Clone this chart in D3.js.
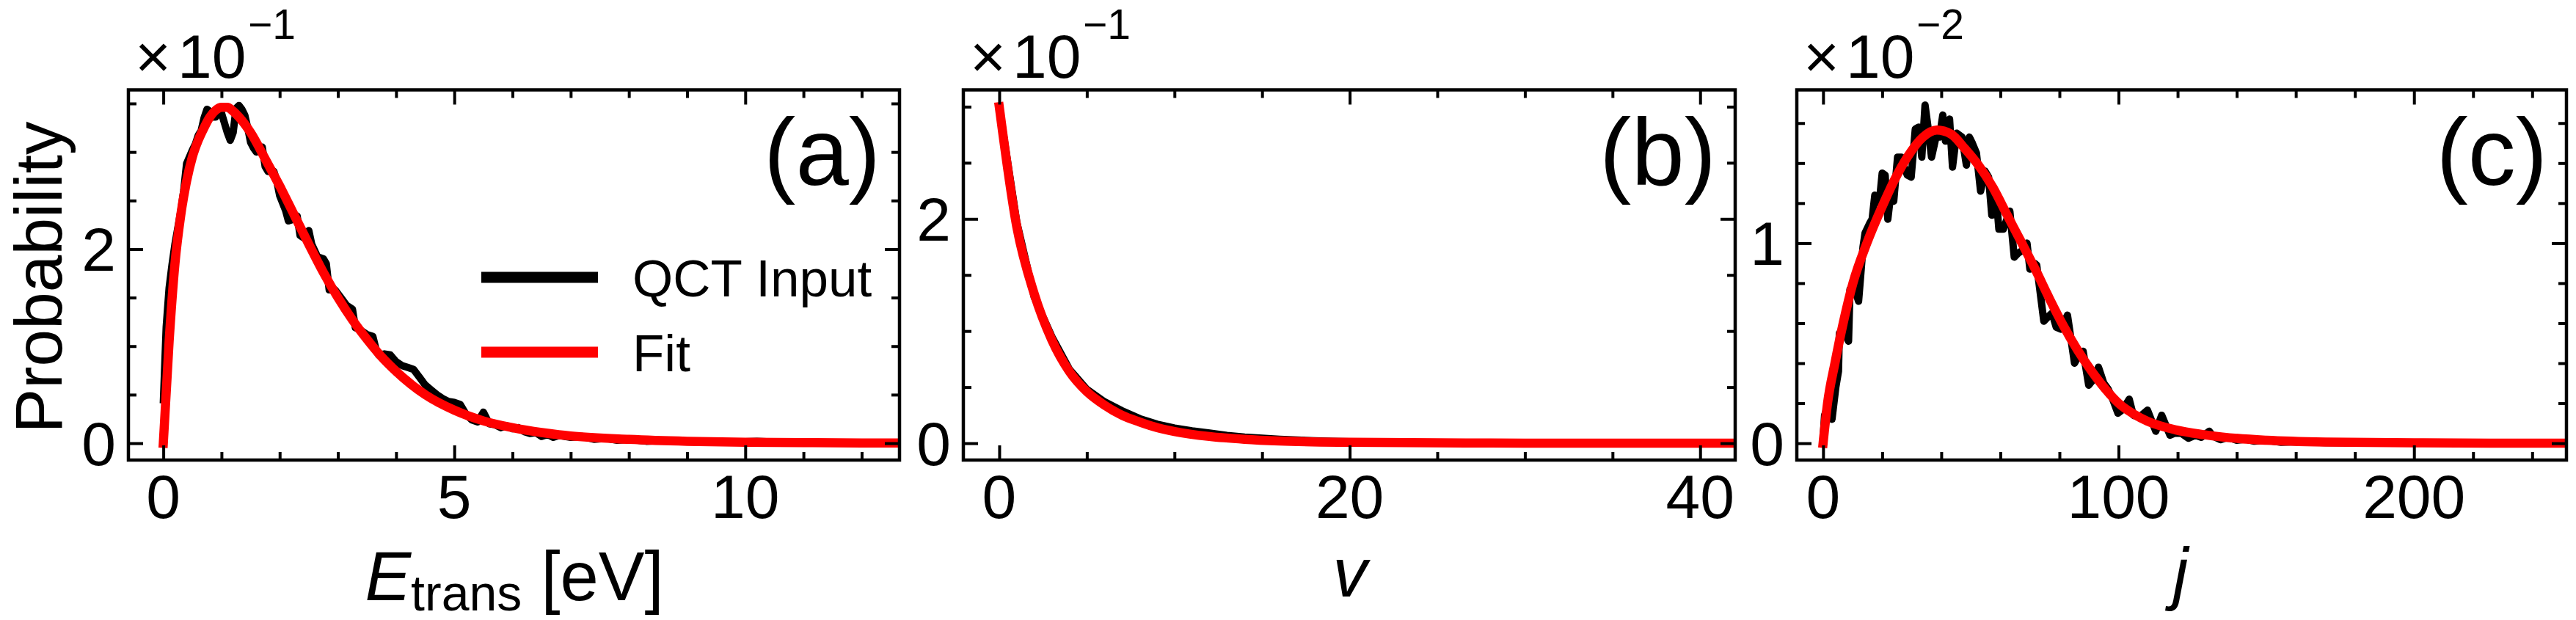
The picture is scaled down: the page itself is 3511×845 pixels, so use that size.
<!DOCTYPE html>
<html><head><meta charset="utf-8">
<script src="https://cdn.jsdelivr.net/npm/d3@7"></script>
<style>
body{margin:0;background:#fff}
text{font-family:"Liberation Sans", Arial, sans-serif;fill:#000}
</style>
</head><body>
<svg id="chart" width="3511" height="845"></svg>
<script>
// ---------- DATA ----------
// (a) translational energy distribution (values x10^-1)
const eQctX = [0,0.05,0.1,0.15,0.2,0.25,0.3,0.35,0.4,0.45,0.5,0.55,0.6,0.65,0.7,0.75,0.8,0.85,0.9,0.95,1.0,1.05,1.1,1.15,1.2,1.25,1.3,1.35,1.4,1.45,1.5,1.55,1.6,1.65,1.7,1.75,1.8,1.85,1.9,1.95,2.0,2.1,2.15,2.2,2.3,2.35,2.4,2.5,2.55,2.65,2.75,2.8,2.85,2.95,3.05,3.15,3.25,3.3,3.4,3.5,3.6,3.65,3.7,3.8,3.9,4.0,4.1,4.2,4.3,4.4,4.5,4.6,4.7,4.8,4.9,5.0,5.1,5.2,5.3,5.4,5.5,5.6,5.7,5.8,5.9,6.0,6.1,6.2,6.3,6.4,6.5,6.6,6.7,6.8,7.0,7.2,7.4,7.6,7.8,8.0,8.3,8.6,9.0,9.4,9.8,10.2,10.6,11.0,11.5,12.05];
const eQctY = [0.41,1.2,1.6,1.84,2.05,2.22,2.39,2.6,2.88,2.95,3.02,3.08,3.17,3.22,3.35,3.44,3.42,3.36,3.36,3.42,3.40,3.30,3.20,3.12,3.20,3.45,3.48,3.44,3.38,3.25,3.10,3.04,3.00,3.02,3.05,2.85,2.80,2.82,2.80,2.70,2.55,2.40,2.29,2.30,2.34,2.14,2.12,2.19,2.05,1.92,1.90,1.85,1.58,1.58,1.50,1.42,1.38,1.19,1.16,1.12,1.10,0.98,0.91,0.92,0.91,0.84,0.80,0.78,0.76,0.68,0.60,0.55,0.50,0.46,0.43,0.42,0.40,0.30,0.24,0.22,0.32,0.20,0.19,0.16,0.18,0.15,0.16,0.12,0.10,0.11,0.07,0.09,0.06,0.08,0.06,0.07,0.04,0.05,0.03,0.04,0.02,0.03,0.015,0.02,0.01,0.02,0.01,0.005,0.005,0.0];
const eFitX = [0,0.1,0.2,0.3,0.4,0.5,0.6,0.7,0.8,0.9,1.0,1.1,1.2,1.3,1.5,1.75,2.0,2.25,2.5,2.75,3.0,3.25,3.5,3.75,4.0,4.5,5.0,5.5,6.0,6.5,7.0,8.0,9.0,10.0,11.0,12.0,12.7];
const eFitY = [0,1.05,1.85,2.35,2.7,2.95,3.12,3.25,3.36,3.43,3.46,3.46,3.42,3.36,3.2,2.93,2.65,2.35,2.05,1.76,1.5,1.27,1.07,0.89,0.74,0.5,0.34,0.23,0.16,0.11,0.075,0.04,0.02,0.01,0.006,0.003,0.002];

// (b) vibrational distribution (values x10^-1)
const vQctX = [0,1,2,3,4,5,6,7,8,9,10,11,12,13,14,15,16,17,18,19,20,22,25,30,35,41];
const vQctY = [3.0,1.97,1.30,0.95,0.66,0.48,0.37,0.29,0.22,0.17,0.135,0.11,0.09,0.07,0.055,0.045,0.035,0.028,0.022,0.017,0.013,0.01,0.005,0.003,0.001,0];
const vFitX = [0,1,2,3,4,5,6,7,8,9,10,12,14,16,20,25,30,42];
const vFitY = [3.0,1.93,1.33,0.92,0.64,0.46,0.34,0.25,0.19,0.14,0.105,0.06,0.035,0.02,0.008,0.003,0.001,0];

// (c) rotational distribution (values x10^-2)
const jQctX = [0,0.5,1.5,3,4.3,5.2,5.5,7,8.6,9.1,10.5,12,13.5,14.2,15.8,16.6,17.5,19,20,21,21.9,23,23.9,25.2,26.5,27.7,28.5,29.8,31.2,32.4,33.4,34.5,35.5,36.7,38.5,39.4,40.5,41.4,42.8,43.8,45.2,47,48.5,49.5,50.5,51.9,53.3,54.8,56,57.1,58.5,59.5,61,63.2,64.7,66,68.2,69,70,71.5,72.3,74.7,76,77.5,78.9,80.5,82.7,85.1,86.5,88,89.9,91.5,93.2,95,96.5,98,99.8,101.5,103.6,105,107,109.8,112.6,114.6,117.4,119,121.2,123.6,126,128,130.7,132,134.5,137,140,143,146,150,155,160,170,180,200,220,252];
const jQctY = [0.02,0.14,0.18,0.12,0.28,0.36,0.55,0.56,0.51,0.77,0.78,0.71,0.98,1.05,1.10,1.12,1.24,1.20,1.35,1.34,1.12,1.26,1.21,1.43,1.43,1.37,1.34,1.33,1.57,1.58,1.43,1.69,1.58,1.43,1.55,1.53,1.64,1.51,1.62,1.38,1.55,1.53,1.39,1.53,1.50,1.45,1.26,1.36,1.33,1.14,1.25,1.07,1.07,1.16,0.93,0.95,0.97,1.00,0.87,0.90,0.89,0.61,0.63,0.65,0.58,0.57,0.64,0.40,0.44,0.46,0.29,0.32,0.38,0.30,0.27,0.22,0.15,0.17,0.22,0.14,0.13,0.165,0.06,0.14,0.04,0.05,0.05,0.025,0.04,0.03,0.06,0.035,0.018,0.03,0.015,0.02,0.01,0.015,0.005,0.008,0.003,0.002,0.001,0,0];
const jFitX = [0,1.5,4,6.8,10.1,14.8,20.5,24.3,28.5,33.8,38.5,43.3,48.1,52.8,57.6,62.3,67.1,71.8,76.6,81.3,86.1,90.8,95.6,100.3,105,109.8,119.3,128.8,135.2,150,170,200,230,252];
const jFitY = [0,0.2,0.4,0.6,0.8,1.0,1.2,1.32,1.43,1.53,1.565,1.545,1.47,1.385,1.275,1.14,1.005,0.87,0.723,0.588,0.466,0.362,0.27,0.196,0.147,0.11,0.067,0.043,0.031,0.015,0.006,0.002,0.0005,0];

// ticks
const eMajor = [0,5,10], eMinor = [1,2,3,4,6,7,8,9,11,12];
const eYMajor = [0,2], eYMinor = [0.5,1,1.5,2.5,3,3.5];
const vMajor = [0,20,40], vMinor = [5,10,15,25,30,35];
const vYMajor = [0,2], vYMinor = [0.5,1,1.5,2.5,3];
const jMajor = [0,100,200], jMinor = [20,40,60,80,120,140,160,180,220,240];
const jYMajor = [0,1], jYMinor = [0.2,0.4,0.6,0.8,1.2,1.4,1.6];
const exponents = ["\u22121","\u22121","\u22122"];
const panelTags = ["(a)","(b)","(c)"];
const legendLabels = ["QCT Input","Fit"];

// ---------- LAYOUT ----------
const svg = d3.select("#chart");
svg.append("rect").attr("width",3511).attr("height",845).attr("fill","#fff");
const plotTop = 122.5, plotBottom = 627;
const panels = [
  {left:175, right:1226, xd:[-0.6,12.65], yd:[-0.1735,3.64], qx:eQctX, qy:eQctY, fx:eFitX, fy:eFitY,
   xM:eMajor, xm:eMinor, yM:eYMajor, ym:eYMinor},
  {left:1313, right:2365, xd:[-2.05,42.0], yd:[-0.15,3.15], qx:vQctX, qy:vQctY, fx:vFitX, fy:vFitY,
   xM:vMajor, xm:vMinor, yM:vYMajor, ym:vYMinor},
  {left:2449, right:3498, xd:[-8.9,251.6], yd:[-0.084,1.766], qx:jQctX, qy:jQctY, fx:jFitX, fy:jFitY,
   xM:jMajor, xm:jMinor, yM:jYMajor, ym:jYMinor}
];
const tickFont = 84, labelFont = 94;

panels.forEach((p,i)=>{
  const x = d3.scaleLinear().domain(p.xd).range([p.left,p.right]);
  const y = d3.scaleLinear().domain(p.yd).range([plotBottom,plotTop]);
  const g = svg.append("g");
  const cid = "clip"+i;
  svg.append("clipPath").attr("id",cid).append("rect")
    .attr("x",p.left).attr("y",plotTop).attr("width",p.right-p.left).attr("height",plotBottom-plotTop);

  // lines
  const lineQ = d3.line().x((d,k)=>x(p.qx[k])).y(d=>y(d)).curve(d3.curveLinear);
  const lineF = d3.line().x((d,k)=>x(p.fx[k])).y(d=>y(d)).curve(d3.curveMonotoneX);
  const lg = g.append("g").attr("clip-path",`url(#${cid})`);
  lg.append("path").attr("d",lineQ(p.qy)).attr("fill","none").attr("stroke","#000")
    .attr("stroke-width",10).attr("stroke-linejoin","round");
  lg.append("path").attr("d",lineF(p.fy)).attr("fill","none").attr("stroke","#ff0000")
    .attr("stroke-width",12.5).attr("stroke-linejoin","round").attr("stroke-linecap","square");

  // ticks (inward, all four sides)
  const styleAxis = sel => { sel.select(".domain").remove(); sel.selectAll("line").attr("stroke","#000").attr("stroke-width",4); sel.selectAll("text").remove(); };
  g.append("g").attr("transform",`translate(0,${plotBottom})`).call(d3.axisBottom(x).tickValues(p.xM).tickSize(-20)).call(styleAxis);
  g.append("g").attr("transform",`translate(0,${plotBottom})`).call(d3.axisBottom(x).tickValues(p.xm).tickSize(-11)).call(styleAxis);
  g.append("g").attr("transform",`translate(0,${plotTop})`).call(d3.axisTop(x).tickValues(p.xM).tickSize(-20)).call(styleAxis);
  g.append("g").attr("transform",`translate(0,${plotTop})`).call(d3.axisTop(x).tickValues(p.xm).tickSize(-11)).call(styleAxis);
  g.append("g").attr("transform",`translate(${p.left},0)`).call(d3.axisLeft(y).tickValues(p.yM).tickSize(-20)).call(styleAxis);
  g.append("g").attr("transform",`translate(${p.left},0)`).call(d3.axisLeft(y).tickValues(p.ym).tickSize(-11)).call(styleAxis);
  g.append("g").attr("transform",`translate(${p.right},0)`).call(d3.axisRight(y).tickValues(p.yM).tickSize(-20)).call(styleAxis);
  g.append("g").attr("transform",`translate(${p.right},0)`).call(d3.axisRight(y).tickValues(p.ym).tickSize(-11)).call(styleAxis);

  // frame
  g.append("rect").attr("x",p.left).attr("y",plotTop).attr("width",p.right-p.left).attr("height",plotBottom-plotTop)
    .attr("fill","none").attr("stroke","#000").attr("stroke-width",4.5);

  // tick labels
  g.selectAll(".xl").data(p.xM).enter().append("text")
    .attr("x",d=>x(d)).attr("y",706).attr("text-anchor","middle").attr("font-size",tickFont).text(d=>d);
  g.selectAll(".yl").data(p.yM).enter().append("text")
    .attr("x",p.left-17).attr("y",d=>y(d)+30).attr("text-anchor","end").attr("font-size",tickFont).text(d=>d);

  // offset text ×10^n
  g.append("text").attr("x",p.left+9).attr("y",106).attr("font-size",tickFont).text("\u00d7");
  g.append("text").attr("x",p.left+67).attr("y",106).attr("font-size",tickFont).text("10");
  g.append("text").attr("x",p.left+163).attr("y",53).attr("font-size",57).text(exponents[i]);

  // panel tag
  g.append("text").attr("x",p.right-26).attr("y",252).attr("text-anchor","end").attr("font-size",130).text(panelTags[i]);
});

// x-axis labels
const xl1 = svg.append("text").attr("x",701).attr("y",818).attr("text-anchor","middle").attr("font-size",labelFont);
xl1.append("tspan").attr("font-style","italic").text("E");
xl1.append("tspan").attr("font-size",68).attr("dy",14).text("trans");
xl1.append("tspan").attr("dy",-14).text(" [eV]");
svg.append("text").attr("x",1840).attr("y",813).attr("text-anchor","middle").attr("font-size",labelFont).attr("font-style","italic").text("v");
svg.append("text").attr("x",2972).attr("y",813).attr("text-anchor","middle").attr("font-size",labelFont).attr("font-style","italic").text("j");

// y-axis label
svg.append("text").attr("transform","translate(84,378) rotate(-90)").attr("text-anchor","middle")
  .attr("font-size",91).text("Probability");

// legend (panel a)
const legColors = ["#000","#ff0000"], legY = [378,480];
legendLabels.forEach((t,k)=>{
  svg.append("line").attr("x1",656).attr("x2",815).attr("y1",legY[k]).attr("y2",legY[k])
    .attr("stroke",legColors[k]).attr("stroke-width",15);
  svg.append("text").attr("x",862).attr("y",legY[k]+26).attr("font-size",71).text(t);
});
</script>
</body></html>
